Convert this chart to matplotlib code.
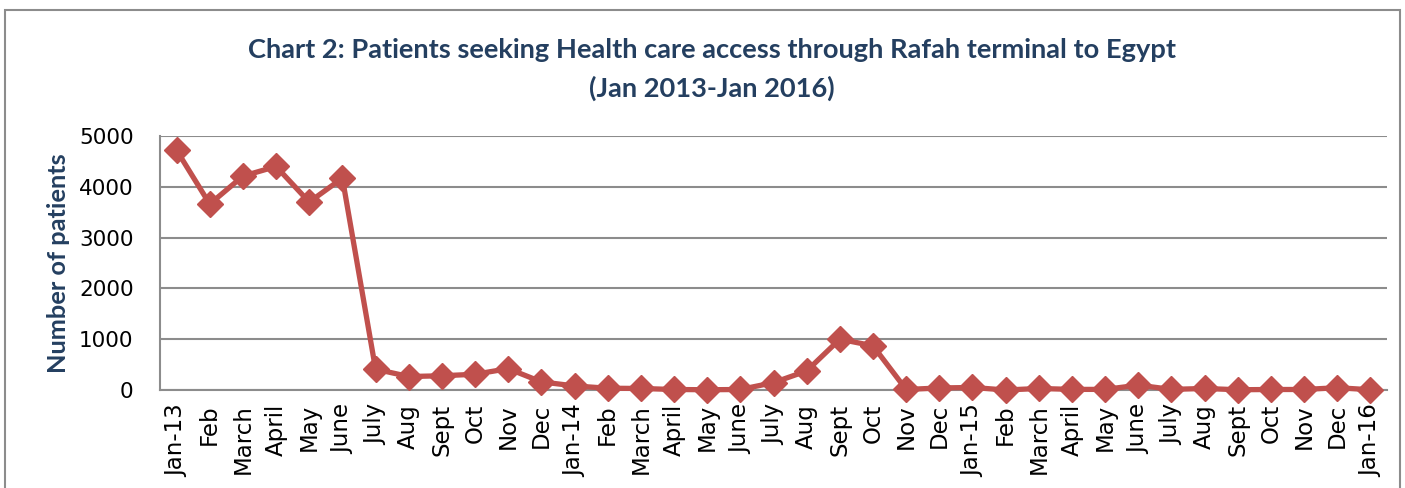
import matplotlib
matplotlib.use("Agg")
import matplotlib.pyplot as plt
from matplotlib.patches import Rectangle

months = ["Jan-13", "Feb", "March", "April", "May", "June", "July", "Aug", "Sept", "Oct", "Nov", "Dec",
          "Jan-14", "Feb", "March", "April", "May", "June", "July", "Aug", "Sept", "Oct", "Nov", "Dec",
          "Jan-15", "Feb", "March", "April", "May", "June", "July", "Aug", "Sept", "Oct", "Nov", "Dec",
          "Jan-16"]
patients = [4720, 3660, 4210, 4400, 3700, 4170, 410, 265, 280, 310, 420, 160,
            80, 35, 30, 10, 5, 10, 145, 375, 1000, 870, 10, 40,
            50, 0, 30, 12, 12, 95, 12, 30, 5, 10, 10, 45,
            5]
yticks = [0, 1000, 2000, 3000, 4000, 5000]

W, H = 1405, 488
fig = plt.figure(figsize=(W / 100, H / 100), dpi=100)
fig.patch.set_facecolor("white")

# outer chart frame
fig.add_artist(Rectangle((5 / W, -0.1), (1400 - 5) / W, (1 - 10 / H) + 0.1,
                         transform=fig.transFigure, fill=False,
                         edgecolor="#8c8c8c", linewidth=1.5))

ax = fig.add_axes([160 / W, 1 - 390 / H, (1387 - 160) / W, (390 - 136) / H])
x = list(range(len(months)))
ax.plot(x, patients, color="#C0504D", linewidth=3.8, marker="D",
        markersize=13, markerfacecolor="#C0504D", markeredgecolor="#C0504D",
        zorder=3, clip_on=False)

ax.set_xlim(-0.5, len(months) - 0.5)
ax.set_ylim(0, 5000)
ax.set_yticks(yticks)
ax.set_yticklabels([str(v) for v in yticks], fontsize=15.5)
ax.set_xticks(x)
ax.set_xticklabels(months, rotation=90, fontsize=16.5)
ax.tick_params(axis="x", length=0, pad=10)
ax.tick_params(axis="y", length=0, pad=19)
ax.grid(axis="y", color="#8c8c8c", linewidth=1.5)
ax.set_axisbelow(True)
for s in ["top", "right"]:
    ax.spines[s].set_visible(False)
ax.spines["left"].set_color("#8c8c8c")
ax.spines["left"].set_linewidth(1.5)
ax.spines["bottom"].set_color("#8c8c8c")
ax.spines["bottom"].set_linewidth(1.5)

title_color = "#243F60"
fig.text(712 / W, 1 - 50 / H, "Chart 2: Patients seeking Health care access through Rafah terminal to Egypt",
         ha="center", va="center", fontsize=19.6, fontweight="bold", family="Lato", color=title_color)
fig.text(712 / W, 1 - 88 / H, "(Jan 2013-Jan 2016)",
         ha="center", va="center", fontsize=19.6, fontweight="bold", family="Lato", color=title_color)
fig.text(58 / W, 1 - 263 / H, "Number of patients", rotation=90,
         ha="center", va="center", fontsize=18.3, fontweight="bold", family="Lato", color=title_color)

fig.savefig("out.png", dpi=100, facecolor="white")
